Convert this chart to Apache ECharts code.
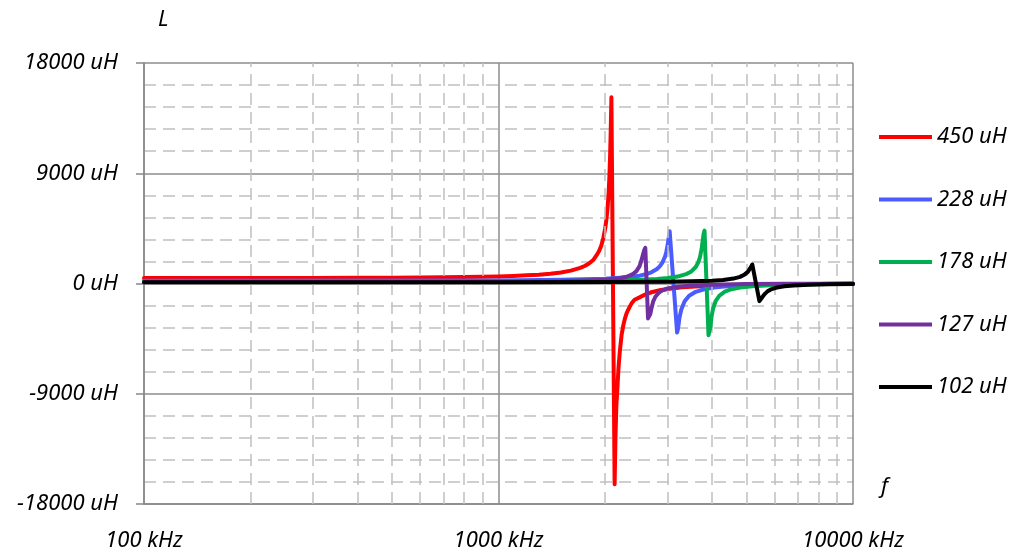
<!DOCTYPE html>
<html>
<head>
<meta charset="utf-8">
<script src="https://cdn.jsdelivr.net/npm/echarts@6/dist/echarts.min.js"></script>
<style>html,body{margin:0;padding:0;background:#fff}#c{width:1017px;height:552px}</style>
</head>
<body>
<div id="c"></div>
<script>
// ---- data (frequency in kHz, inductance in uH) ----
const seriesNames = ['450 uH', '228 uH', '178 uH', '127 uH', '102 uH'];
const seriesColors = ['#ff0000', '#4a5cff', '#00b050', '#7030a0', '#000000'];

const freq450 = [100, 200, 300, 400, 500, 600, 700, 800, 900, 1000, 1100, 1200, 1300, 1400, 1500, 1600, 1700, 1750, 1800, 1850, 1900, 1925, 1950, 1975, 2000, 2015, 2030, 2045, 2055, 2065, 2073, 2082,
                 2126, 2138, 2150, 2165, 2180, 2200, 2225, 2250, 2275, 2300, 2340, 2374, 2420, 2500, 2600, 2700, 2850, 3000, 3300, 3700, 4200, 5000, 6000, 8000, 10000];
const val450  = [450, 454, 459, 467, 477, 489, 506, 525, 549, 580, 617, 664, 723, 801, 905, 1052, 1271, 1427, 1632, 1916, 2400, 2700, 3100, 3700, 4500, 5200, 6100, 7400, 8700, 10500, 12500, 15200,
                 -16380, -12500, -10000, -8500, -6900, -5500, -4180, -3400, -2820, -2400, -1950, -1620, -1330, -1133, -880, -715, -552, -445, -314, -218, -153, -98, -64, -34, -21];

const freq228 = [100, 1000, 1500, 2000, 2300, 2500, 2600, 2700, 2800, 2850, 2900, 2950, 2975, 3000, 3020, 3040,
                 3190, 3210, 3240, 3280, 3350, 3450, 3600, 3800, 4100, 4500, 5000, 6000, 8000, 10000];
const val228  = [228, 254, 297, 388, 501, 641, 752, 917, 1187, 1400, 1710, 2211, 2594, 3145, 3700, 4260,
                 -4000, -3680, -2783, -2096, -1456, -1006, -679, -467, -311, -210, -145, -84, -41, -25];

const freq178 = [100, 1000, 1500, 2000, 2500, 2800, 3000, 3200, 3400, 3500, 3600, 3650, 3700, 3740, 3770, 3790, 3812,
                 3912, 3960, 3990, 4030, 4100, 4200, 4350, 4500, 4800, 5200, 6000, 7000, 8500, 10000];
const val178  = [178, 191, 210, 243, 306, 375, 448, 566, 787, 989, 1344, 1645, 2129, 2799, 3600, 4050, 4320,
                 -4220, -3574, -2709, -2041, -1420, -984, -667, -501, -328, -220, -126, -78, -46, -31];

const freq127 = [100, 1000, 1500, 2000, 2200, 2300, 2400, 2450, 2500, 2530, 2555, 2575, 2595,
                 2641, 2680, 2700, 2730, 2770, 2830, 2900, 3000, 3200, 3500, 4000, 5000, 6500, 8000, 10000];
const val127  = [127, 149, 189, 304, 431, 554, 789, 1011, 1419, 1881, 2350, 2700, 2910,
                 -2850, -2500, -2048, -1482, -1078, -762, -564, -408, -258, -162, -95, -48, -25, -15, -9];

const freq102 = [100, 1000, 2000, 3000, 3500, 4000, 4300, 4600, 4800, 4950, 5050, 5130, 5200,
                 5445, 5550, 5650, 5750, 5900, 6100, 6400, 6800, 7500, 8500, 10000];
const val102  = [102, 106, 119, 149, 179, 234, 292, 400, 540, 742, 950, 1250, 1550,
                 -1440, -1100, -825, -623, -453, -329, -231, -162, -104, -66, -40];

const minorFreqs = [200, 300, 400, 500, 600, 700, 800, 900, 2000, 3000, 4000, 5000, 6000, 7000, 8000, 9000];
const yTicks = { min: -18000, max: 18000, interval: 9000 };

// ---- build ----
const freqs = [freq450, freq228, freq178, freq127, freq102];
const vals = [val450, val228, val178, val127, val102];
const zip = (a, b) => a.map((x, i) => [x, b[i]]);

const font = '"Noto Sans", "DejaVu Sans", sans-serif';
const txt = { fontFamily: font, fontStyle: 'italic', fontSize: 22, color: '#000' };

const series = seriesNames.map((name, i) => ({
  name,
  type: 'line',
  data: zip(freqs[i], vals[i]),
  showSymbol: false,
  symbol: 'none',
  smooth: false,
  lineStyle: { color: seriesColors[i], width: 4, join: 'round', cap: 'round' },
  itemStyle: { color: seriesColors[i] },
  z: 3 + i,
  animation: false
}));

series.unshift({
  name: 'minorGrid',
  type: 'line',
  data: [],
  silent: true,
  z: 1,
  markLine: {
    silent: true,
    symbol: 'none',
    animation: false,
    label: { show: false },
    lineStyle: { color: '#c0c0c0', width: 1.5, type: [12, 7] },
    data: minorFreqs.map(f => ({ xAxis: f }))
  }
});

const chart = echarts.init(document.getElementById('c'), null, { renderer: 'canvas' });
chart.setOption({
  animation: false,
  backgroundColor: '#ffffff',
  grid: { left: 144, right: 164, top: 63, bottom: 47, containLabel: false },
  xAxis: {
    type: 'log',
    logBase: 10,
    min: 100,
    max: 10000,
    axisLine: { show: true, onZero: false, lineStyle: { color: '#888', width: 1.5 } },
    axisTick: { show: false },
    axisLabel: { ...txt, margin: 26, formatter: v => v + ' kHz' },
    splitLine: { show: true, lineStyle: { color: '#8c8c8c', width: 1.5 } },
    minorTick: { show: false },
    minorSplitLine: { show: false }
  },
  yAxis: {
    type: 'value',
    min: yTicks.min,
    max: yTicks.max,
    interval: yTicks.interval,
    axisLine: { show: true, lineStyle: { color: '#888', width: 1.5 } },
    axisTick: { show: true, length: 8, lineStyle: { color: '#888', width: 1.5 } },
    axisLabel: { ...txt, margin: 26, formatter: v => v + ' uH' },
    splitLine: { show: true, lineStyle: { color: '#8c8c8c', width: 1.5 } },
    minorTick: { show: false, splitNumber: 5 },
    minorSplitLine: { show: true, lineStyle: { color: '#c0c0c0', width: 1.5, type: [12, 7] } }
  },
  legend: {
    data: seriesNames,
    orient: 'vertical',
    left: 879,
    top: 125,
    padding: 0,
    icon: 'rect',
    itemWidth: 53,
    itemHeight: 4,
    itemGap: 38.5,
    textStyle: { ...txt, lineHeight: 24, padding: [0, 0, 0, 0] }
  },
  graphic: [
    { type: 'text', left: 158, top: 9, style: { text: 'L', font: 'italic 22px ' + font, fill: '#000' } },
    { type: 'text', left: 881, top: 476, style: { text: 'f', font: 'italic 22px ' + font, fill: '#000' } }
  ],
  series
});
</script>
</body>
</html>
